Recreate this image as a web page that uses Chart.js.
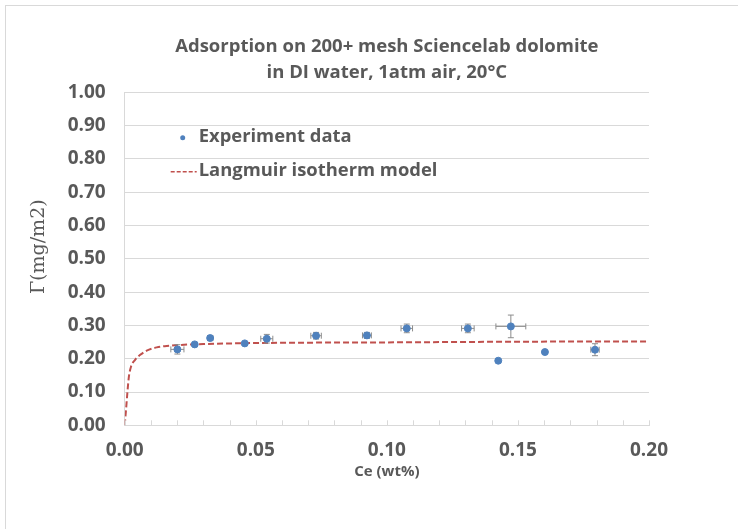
<!DOCTYPE html>
<html>
<head>
<meta charset="utf-8">
<script src="https://cdn.jsdelivr.net/npm/chart.js@4.4.0/dist/chart.umd.min.js"></script>
<style>
  html, body { margin: 0; padding: 0; background: #fff; overflow: hidden; }
  #wrap { position: relative; width: 738px; height: 529px; }
  #frame { position: absolute; left: 5px; top: 5px; width: 900px; height: 700px;
           border-top: 1px solid #d9d9d9; border-left: 1px solid #d9d9d9; pointer-events: none; }
</style>
</head>
<body>
<div id="wrap">
  <canvas id="chart" width="738" height="529"></canvas>
  <div id="frame"></div>
</div>
<script>
// experiment data
const ceData    = [0.0201, 0.0267, 0.0326, 0.0458, 0.0542, 0.0730, 0.0924, 0.1076, 0.1309, 0.1473, 0.1425, 0.1603, 0.1794];
const gammaData = [0.228, 0.243, 0.262, 0.246, 0.260, 0.269, 0.270, 0.291, 0.291, 0.297, 0.194, 0.220, 0.227];
const ceErr     = [0.0025, 0, 0.0010, 0, 0.0023, 0.0020, 0.0017, 0.0022, 0.0024, 0.0057, 0, 0, 0.0016];
const gammaErr  = [0.014, 0, 0.006, 0, 0.013, 0.010, 0.009, 0.013, 0.013, 0.034, 0, 0, 0.018];

// Langmuir model curve
const modelCe    = [0, 0.0005, 0.001, 0.0016, 0.0024, 0.0039, 0.0058, 0.0084, 0.0122, 0.0173, 0.0205, 0.03, 0.05, 0.1, 0.15, 0.2];
const modelGamma = [0, 0.046, 0.096, 0.146, 0.176, 0.196, 0.211, 0.224, 0.234, 0.239, 0.241, 0.244, 0.247, 0.249, 0.251, 0.252];

const titleLines = ['Adsorption on 200+ mesh Sciencelab dolomite', 'in DI water, 1atm air, 20°C'];
const seriesNames = ['Experiment data', 'Langmuir isotherm model'];

const BLUE = '#4F81BD';
const RED = '#C0504D';
const TEXT = '#595959';
const GRID = '#d9d9d9';
const FONT = 'Open Sans';

// error bars under the points
const errorBars = {
    id: 'errorBars',
    beforeDatasetDraw(chart, args) {
        if (args.index !== 0) return;
        const { ctx, scales: { x, y } } = chart;
        ctx.save();
        ctx.strokeStyle = '#8c8c8c';
        ctx.lineWidth = 1;
        ceData.forEach((c, i) => {
            const px = x.getPixelForValue(c);
            const py = y.getPixelForValue(gammaData[i]);
            if (ceErr[i] > 0) {
                const x0 = x.getPixelForValue(c - ceErr[i]);
                const x1 = x.getPixelForValue(c + ceErr[i]);
                ctx.beginPath();
                ctx.moveTo(x0, py); ctx.lineTo(x1, py);
                ctx.moveTo(x0, py - 3); ctx.lineTo(x0, py + 3);
                ctx.moveTo(x1, py - 3); ctx.lineTo(x1, py + 3);
                ctx.stroke();
            }
            if (gammaErr[i] > 0) {
                const y0 = y.getPixelForValue(gammaData[i] - gammaErr[i]);
                const y1 = y.getPixelForValue(gammaData[i] + gammaErr[i]);
                ctx.beginPath();
                ctx.moveTo(px, y0); ctx.lineTo(px, y1);
                ctx.moveTo(px - 3, y0); ctx.lineTo(px + 3, y0);
                ctx.moveTo(px - 3, y1); ctx.lineTo(px + 3, y1);
                ctx.stroke();
            }
        });
        ctx.restore();
    }
};

// small tick marks pointing into the plot on the x axis
const innerTicks = {
    id: 'innerTicks',
    afterDraw(chart) {
        const { ctx, chartArea, scales: { x } } = chart;
        ctx.save();
        ctx.strokeStyle = GRID;
        ctx.lineWidth = 1;
        x.ticks.forEach(t => {
            const px = Math.round(x.getPixelForValue(t.value)) + 0.5;
            ctx.beginPath();
            ctx.moveTo(px, chartArea.bottom);
            ctx.lineTo(px, chartArea.bottom - 5);
            ctx.stroke();
        });
        ctx.restore();
    }
};

// legend drawn inside the plot, top left
const insideLegend = {
    id: 'insideLegend',
    afterDraw(chart) {
        const { ctx, chartArea } = chart;
        const lx = chartArea.left;
        const ty = chartArea.top;
        ctx.save();
        ctx.fillStyle = BLUE;
        ctx.beginPath();
        ctx.arc(lx + 58, ty + 45.5, 2.5, 0, Math.PI * 2);
        ctx.fill();
        ctx.strokeStyle = RED;
        ctx.lineWidth = 1.5;
        ctx.setLineDash([4, 2]);
        ctx.beginPath();
        ctx.moveTo(lx + 46, ty + 79.5);
        ctx.lineTo(lx + 72, ty + 79.5);
        ctx.stroke();
        ctx.setLineDash([]);
        ctx.fillStyle = TEXT;
        ctx.font = 'bold 18.4px ' + FONT;
        ctx.textBaseline = 'middle';
        ctx.textAlign = 'left';
        ctx.fillText(seriesNames[0], lx + 74, ty + 44);
        ctx.fillText(seriesNames[1], lx + 74, ty + 78);
        ctx.restore();
    }
};

new Chart(document.getElementById('chart'), {
    type: 'scatter',
    data: {
        datasets: [{
            label: seriesNames[0],
            data: ceData.map((c, i) => ({ x: c, y: gammaData[i] })),
            backgroundColor: BLUE,
            borderColor: BLUE,
            pointRadius: 3.5,
            showLine: false,
            order: 0
        }, {
            label: seriesNames[1],
            data: modelCe.map((c, i) => ({ x: c, y: modelGamma[i] })),
            borderColor: RED,
            borderWidth: 2,
            borderDash: [6, 3],
            pointRadius: 0,
            showLine: true,
            cubicInterpolationMode: 'monotone',
            order: 1
        }]
    },
    options: {
        responsive: false,
        animation: false,
        devicePixelRatio: 1,
        layout: { padding: { left: 0, right: 89, top: 0, bottom: 0 } },
        plugins: {
            legend: { display: false },
            tooltip: { enabled: false },
            title: {
                display: true,
                text: titleLines,
                fullSize: false,
                color: TEXT,
                font: { family: FONT, size: 18.5, weight: 'bold', lineHeight: 1.4 },
                padding: { top: 34, bottom: 6.5 }
            }
        },
        scales: {
            x: {
                type: 'linear',
                min: 0,
                max: 0.2,
                afterFit(scale) { scale.height = 103.7; },
                ticks: {
                    stepSize: 0.01,
                    autoSkip: false,
                    maxRotation: 0,
                    padding: 14,
                    color: TEXT,
                    font: { family: FONT, size: 19, weight: 'bold' },
                    callback: v => (Math.round(v * 100) % 5 === 0 ? v.toFixed(2) : '')
                },
                grid: { display: true, drawOnChartArea: false, drawTicks: false, color: GRID },
                border: { display: true, color: GRID },
                title: {
                    display: true,
                    text: 'Ce (wt%)',
                    color: TEXT,
                    font: { family: FONT, size: 15, weight: 'bold' },
                    padding: { top: 0, bottom: 48 }
                }
            },
            y: {
                min: 0,
                max: 1,
                afterFit(scale) { scale.width = 124.7; },
                ticks: {
                    stepSize: 0.1,
                    padding: 19,
                    color: TEXT,
                    font: { family: FONT, size: 19, weight: 'bold' },
                    callback: v => v.toFixed(2)
                },
                grid: { color: GRID, drawTicks: false },
                border: { display: true, color: GRID },
                title: {
                    display: true,
                    text: '    Γ(mg/m2)',
                    color: TEXT,
                    font: { family: 'DejaVu Serif', size: 19, weight: 'normal' },
                    padding: { top: 27.6, bottom: 0 }
                }
            }
        }
    },
    plugins: [errorBars, innerTicks, insideLegend]
});
</script>
</body>
</html>
